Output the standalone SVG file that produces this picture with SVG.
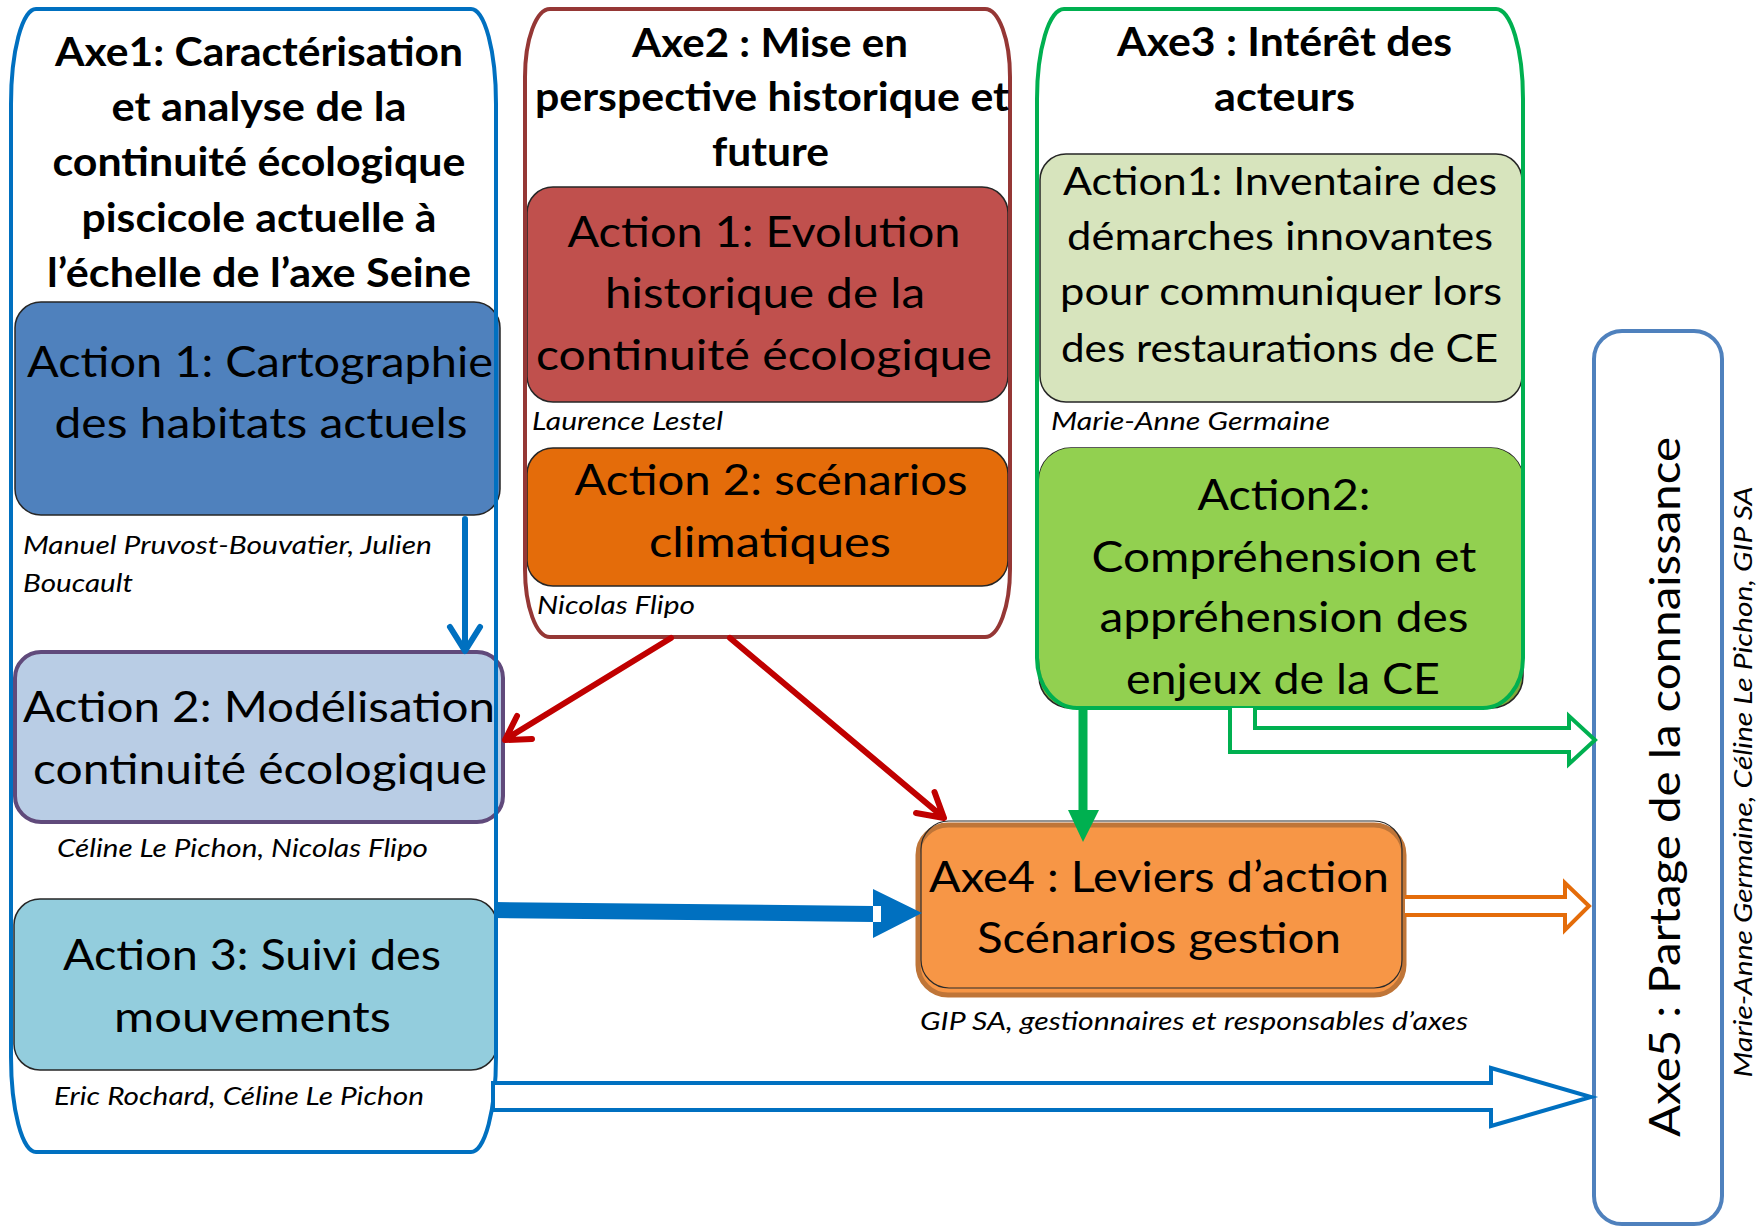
<svg xmlns="http://www.w3.org/2000/svg" width="1757" height="1228" viewBox="0 0 1757 1228">
<style>
 text { font-family: Lato, "Liberation Sans", sans-serif; fill:#000; }
 .title { font-size:40px; font-weight:bold; text-anchor:middle; }
 .act { font-size:43px; text-anchor:middle; }
 .act3 { font-size:38px; text-anchor:middle; }
 .auth { font-size:25px; font-style:italic; }
 .box { stroke:#262626; stroke-width:1.5; }
 .cont { fill:none; stroke-width:4; }
 .bg { fill:#fff; stroke:none; }
 .hollow { fill:#fff; stroke-width:4; stroke-linejoin:miter; }
 .vline { fill:none; stroke-linecap:round; stroke-linejoin:round; }
</style>
<rect x="0" y="0" width="1757" height="1228" fill="#fff"/>

<g id="axe1">
  <path class="bg" d="M36,9 H471 A25,95 0 0 1 496,104 V1057 A25,95 0 0 1 471,1152 H36 A25,95 0 0 1 11,1057 V104 A25,95 0 0 1 36,9 Z"/>
  <g id="axe1-action1">
    <rect class="box" x="15" y="302" width="485" height="213" rx="26" fill="#4F81BD"/>
    <text class="act" x="260" y="377" textLength="466" lengthAdjust="spacingAndGlyphs">Action 1: Cartographie</text>
    <text class="act" x="261" y="438" textLength="413" lengthAdjust="spacingAndGlyphs">des habitats actuels</text>
  </g>
  <g id="axe1-action2">
    <rect x="15" y="652" width="488" height="170" rx="26" fill="#B9CDE5" stroke="#604A7B" stroke-width="4"/>
    <text class="act" x="259" y="722" textLength="472" lengthAdjust="spacingAndGlyphs">Action 2: Modélisation</text>
    <text class="act" x="260" y="784" textLength="454" lengthAdjust="spacingAndGlyphs">continuité écologique</text>
  </g>
  <g id="axe1-action3">
    <rect class="box" x="14" y="899" width="483" height="171" rx="26" fill="#93CDDD"/>
    <text class="act" x="252" y="970" textLength="378" lengthAdjust="spacingAndGlyphs">Action 3: Suivi des</text>
    <text class="act" x="252.5" y="1032" textLength="277" lengthAdjust="spacingAndGlyphs">mouvements</text>
  </g>
  <path class="cont" stroke="#0070C0" d="M36,9 H471 A25,95 0 0 1 496,104 V1057 A25,95 0 0 1 471,1152 H36 A25,95 0 0 1 11,1057 V104 A25,95 0 0 1 36,9 Z"/>
  <text class="title" x="259" y="66" textLength="408" lengthAdjust="spacingAndGlyphs">Axe1: Caractérisation</text>
  <text class="title" x="259" y="121" textLength="295" lengthAdjust="spacingAndGlyphs">et analyse de la</text>
  <text class="title" x="259" y="176" textLength="413" lengthAdjust="spacingAndGlyphs">continuité écologique</text>
  <text class="title" x="259" y="232" textLength="355" lengthAdjust="spacingAndGlyphs">piscicole actuelle à</text>
  <text class="title" x="259" y="287" textLength="424" lengthAdjust="spacingAndGlyphs">l’échelle de l’axe Seine</text>
  <text class="auth" x="23" y="554" textLength="409" lengthAdjust="spacingAndGlyphs">Manuel Pruvost-Bouvatier, Julien</text>
  <text class="auth" x="23" y="592" textLength="110" lengthAdjust="spacingAndGlyphs">Boucault</text>
  <text class="auth" x="57" y="857" textLength="371" lengthAdjust="spacingAndGlyphs">Céline Le Pichon, Nicolas Flipo</text>
  <text class="auth" x="54" y="1105" textLength="370" lengthAdjust="spacingAndGlyphs">Eric Rochard, Céline Le Pichon</text>
</g>

<g id="axe2">
  <path class="bg" d="M550,9 H985 A25,68 0 0 1 1010,77 V569 A25,68 0 0 1 985,637 H550 A25,68 0 0 1 525,569 V77 A25,68 0 0 1 550,9 Z"/>
  <g id="axe2-action1">
    <rect class="box" x="527" y="187" width="481" height="215" rx="26" fill="#C0504D"/>
    <text class="act" x="764" y="247" textLength="393" lengthAdjust="spacingAndGlyphs">Action 1: Evolution</text>
    <text class="act" x="765" y="308" textLength="320" lengthAdjust="spacingAndGlyphs">historique de la</text>
    <text class="act" x="764" y="370" textLength="456" lengthAdjust="spacingAndGlyphs">continuité écologique</text>
  </g>
  <g id="axe2-action2">
    <rect class="box" x="527" y="448" width="481" height="138" rx="26" fill="#E46C0A"/>
    <text class="act" x="771" y="495" textLength="393" lengthAdjust="spacingAndGlyphs">Action 2: scénarios</text>
    <text class="act" x="770" y="557" textLength="242" lengthAdjust="spacingAndGlyphs">climatiques</text>
  </g>
  <path class="cont" stroke="#953735" d="M550,9 H985 A25,68 0 0 1 1010,77 V569 A25,68 0 0 1 985,637 H550 A25,68 0 0 1 525,569 V77 A25,68 0 0 1 550,9 Z"/>
  <text class="title" x="770" y="57" textLength="276" lengthAdjust="spacingAndGlyphs">Axe2 : Mise en</text>
  <text class="title" x="772" y="111" textLength="474" lengthAdjust="spacingAndGlyphs">perspective historique et</text>
  <text class="title" x="770.5" y="166" textLength="117" lengthAdjust="spacingAndGlyphs">future</text>
  <text class="auth" x="532" y="430" textLength="191" lengthAdjust="spacingAndGlyphs">Laurence Lestel</text>
  <text class="auth" x="537" y="614" textLength="158" lengthAdjust="spacingAndGlyphs">Nicolas Flipo</text>
</g>

<g id="axe3">
  <path class="bg" d="M1064,9 H1496 A27,90 0 0 1 1523,99 V658 A40,50 0 0 1 1483,708 H1077 A40,50 0 0 1 1037,658 V99 A27,90 0 0 1 1064,9 Z"/>
  <g id="axe3-action1">
    <rect class="box" x="1040" y="154" width="482" height="248" rx="26" fill="#D7E4BD"/>
    <text class="act3" x="1280" y="195" textLength="434" lengthAdjust="spacingAndGlyphs">Action1: Inventaire des</text>
    <text class="act3" x="1280" y="250" textLength="426" lengthAdjust="spacingAndGlyphs">démarches innovantes</text>
    <text class="act3" x="1281" y="305" textLength="442" lengthAdjust="spacingAndGlyphs">pour communiquer lors</text>
    <text class="act3" x="1279.5" y="362" textLength="437" lengthAdjust="spacingAndGlyphs">des restaurations de CE</text>
  </g>
  <g id="axe3-action2">
    <rect class="box" x="1039" y="448" width="484" height="260" rx="32" fill="#7FA83A"/>
    <path d="M1071,448 H1491 A32,32 0 0 1 1523,480 V658 A40,50 0 0 1 1483,708 H1077 A40,50 0 0 1 1039,658 V480 A32,32 0 0 1 1071,448 Z" fill="#92D050"/>
    <text class="act" x="1284" y="510" textLength="173" lengthAdjust="spacingAndGlyphs">Action2:</text>
    <text class="act" x="1284" y="572" textLength="385" lengthAdjust="spacingAndGlyphs">Compréhension et</text>
    <text class="act" x="1284" y="632" textLength="369" lengthAdjust="spacingAndGlyphs">appréhension des</text>
    <text class="act" x="1283" y="694" textLength="314" lengthAdjust="spacingAndGlyphs">enjeux de la CE</text>
  </g>
  <path class="cont" stroke="#00B050" d="M1064,9 H1496 A27,90 0 0 1 1523,99 V658 A40,50 0 0 1 1483,708 H1077 A40,50 0 0 1 1037,658 V99 A27,90 0 0 1 1064,9 Z"/>
  <text class="title" x="1284.5" y="56" textLength="335" lengthAdjust="spacingAndGlyphs">Axe3 : Intérêt des</text>
  <text class="title" x="1284.5" y="111" textLength="141" lengthAdjust="spacingAndGlyphs">acteurs</text>
  <text class="auth" x="1051" y="430" textLength="279" lengthAdjust="spacingAndGlyphs">Marie-Anne Germaine</text>
</g>

<g id="axe4">
  <rect x="918" y="825" width="486" height="170" rx="30" fill="#F79646" stroke="#BF7538" stroke-width="5"/>
  <rect x="921" y="821" width="481" height="167" rx="28" fill="none" stroke="#2a2a2a" stroke-width="1.2"/>
  <text class="act" x="1159" y="892" textLength="460" lengthAdjust="spacingAndGlyphs">Axe4 : Leviers d’action</text>
  <text class="act" x="1159" y="953" textLength="364" lengthAdjust="spacingAndGlyphs">Scénarios gestion</text>
  <text class="auth" x="920" y="1030" textLength="548" lengthAdjust="spacingAndGlyphs">GIP SA, gestionnaires et responsables d’axes</text>
</g>

<g id="axe5">
  <rect x="1594" y="331" width="128" height="893" rx="28" fill="#fff" stroke="#4F81BD" stroke-width="4"/>
  <text class="act" font-size="44" transform="translate(1680,787) rotate(-90)" x="0" y="0" textLength="700" lengthAdjust="spacingAndGlyphs">Axe5 : Partage de la connaissance</text>
  <text class="auth" text-anchor="middle" transform="translate(1752,782) rotate(-90)" x="0" y="0" textLength="591" lengthAdjust="spacingAndGlyphs">Marie-Anne Germaine, Céline Le Pichon, GIP SA</text>
</g>

<g id="connectors">
  <!-- Axe1 action1 -> action2 -->
  <path class="vline" stroke="#0070C0" stroke-width="6" d="M465,519 V650 M450,627 L465,651 L480,627"/>
  <!-- Axe2 -> Axe1 action2 -->
  <path class="vline" stroke="#C00000" stroke-width="6" d="M671,638 L506,739 M532,739 L505,740 L517,716"/>
  <!-- Axe2 -> Axe4 -->
  <path class="vline" stroke="#C00000" stroke-width="6" d="M730,638 L943,817 M934.5,792 L944,818 L916,813"/>
  <!-- Axe3 action2 -> Axe4 -->
  <path stroke="#00B050" stroke-width="9" fill="none" d="M1083,708 V812"/>
  <polygon fill="#00B050" points="1068,810 1099,810 1083,842"/>
  <!-- Axe3 action2 -> Axe5 (hollow bent arrow) -->
  <polyline class="hollow" stroke="#00B050" points="1230,708 1230,752 1569,752 1569,764 1595,740 1569,716 1569,728 1255,728 1255,708"/>
  <!-- Axe1 -> Axe4 (thick blue) -->
  <polygon fill="#0070C0" points="494,902 873,906 873,922 494,918"/>
  <polygon fill="#0070C0" points="873,889 922,913 873,938 873,922 881,922 881,906 873,906"/>
  <!-- Axe4 -> Axe5 (hollow orange) -->
  <polyline class="hollow" stroke="#E46C0A" points="1405,897 1565,897 1565,883 1589,906 1565,930 1565,915 1405,915"/>
  <!-- Axe1 -> Axe5 (hollow blue) -->
  <polygon class="hollow" stroke="#0070C0" points="493,1083 1491,1083 1491,1068 1591,1097 1491,1126 1491,1110 493,1110"/>
</g>
</svg>
